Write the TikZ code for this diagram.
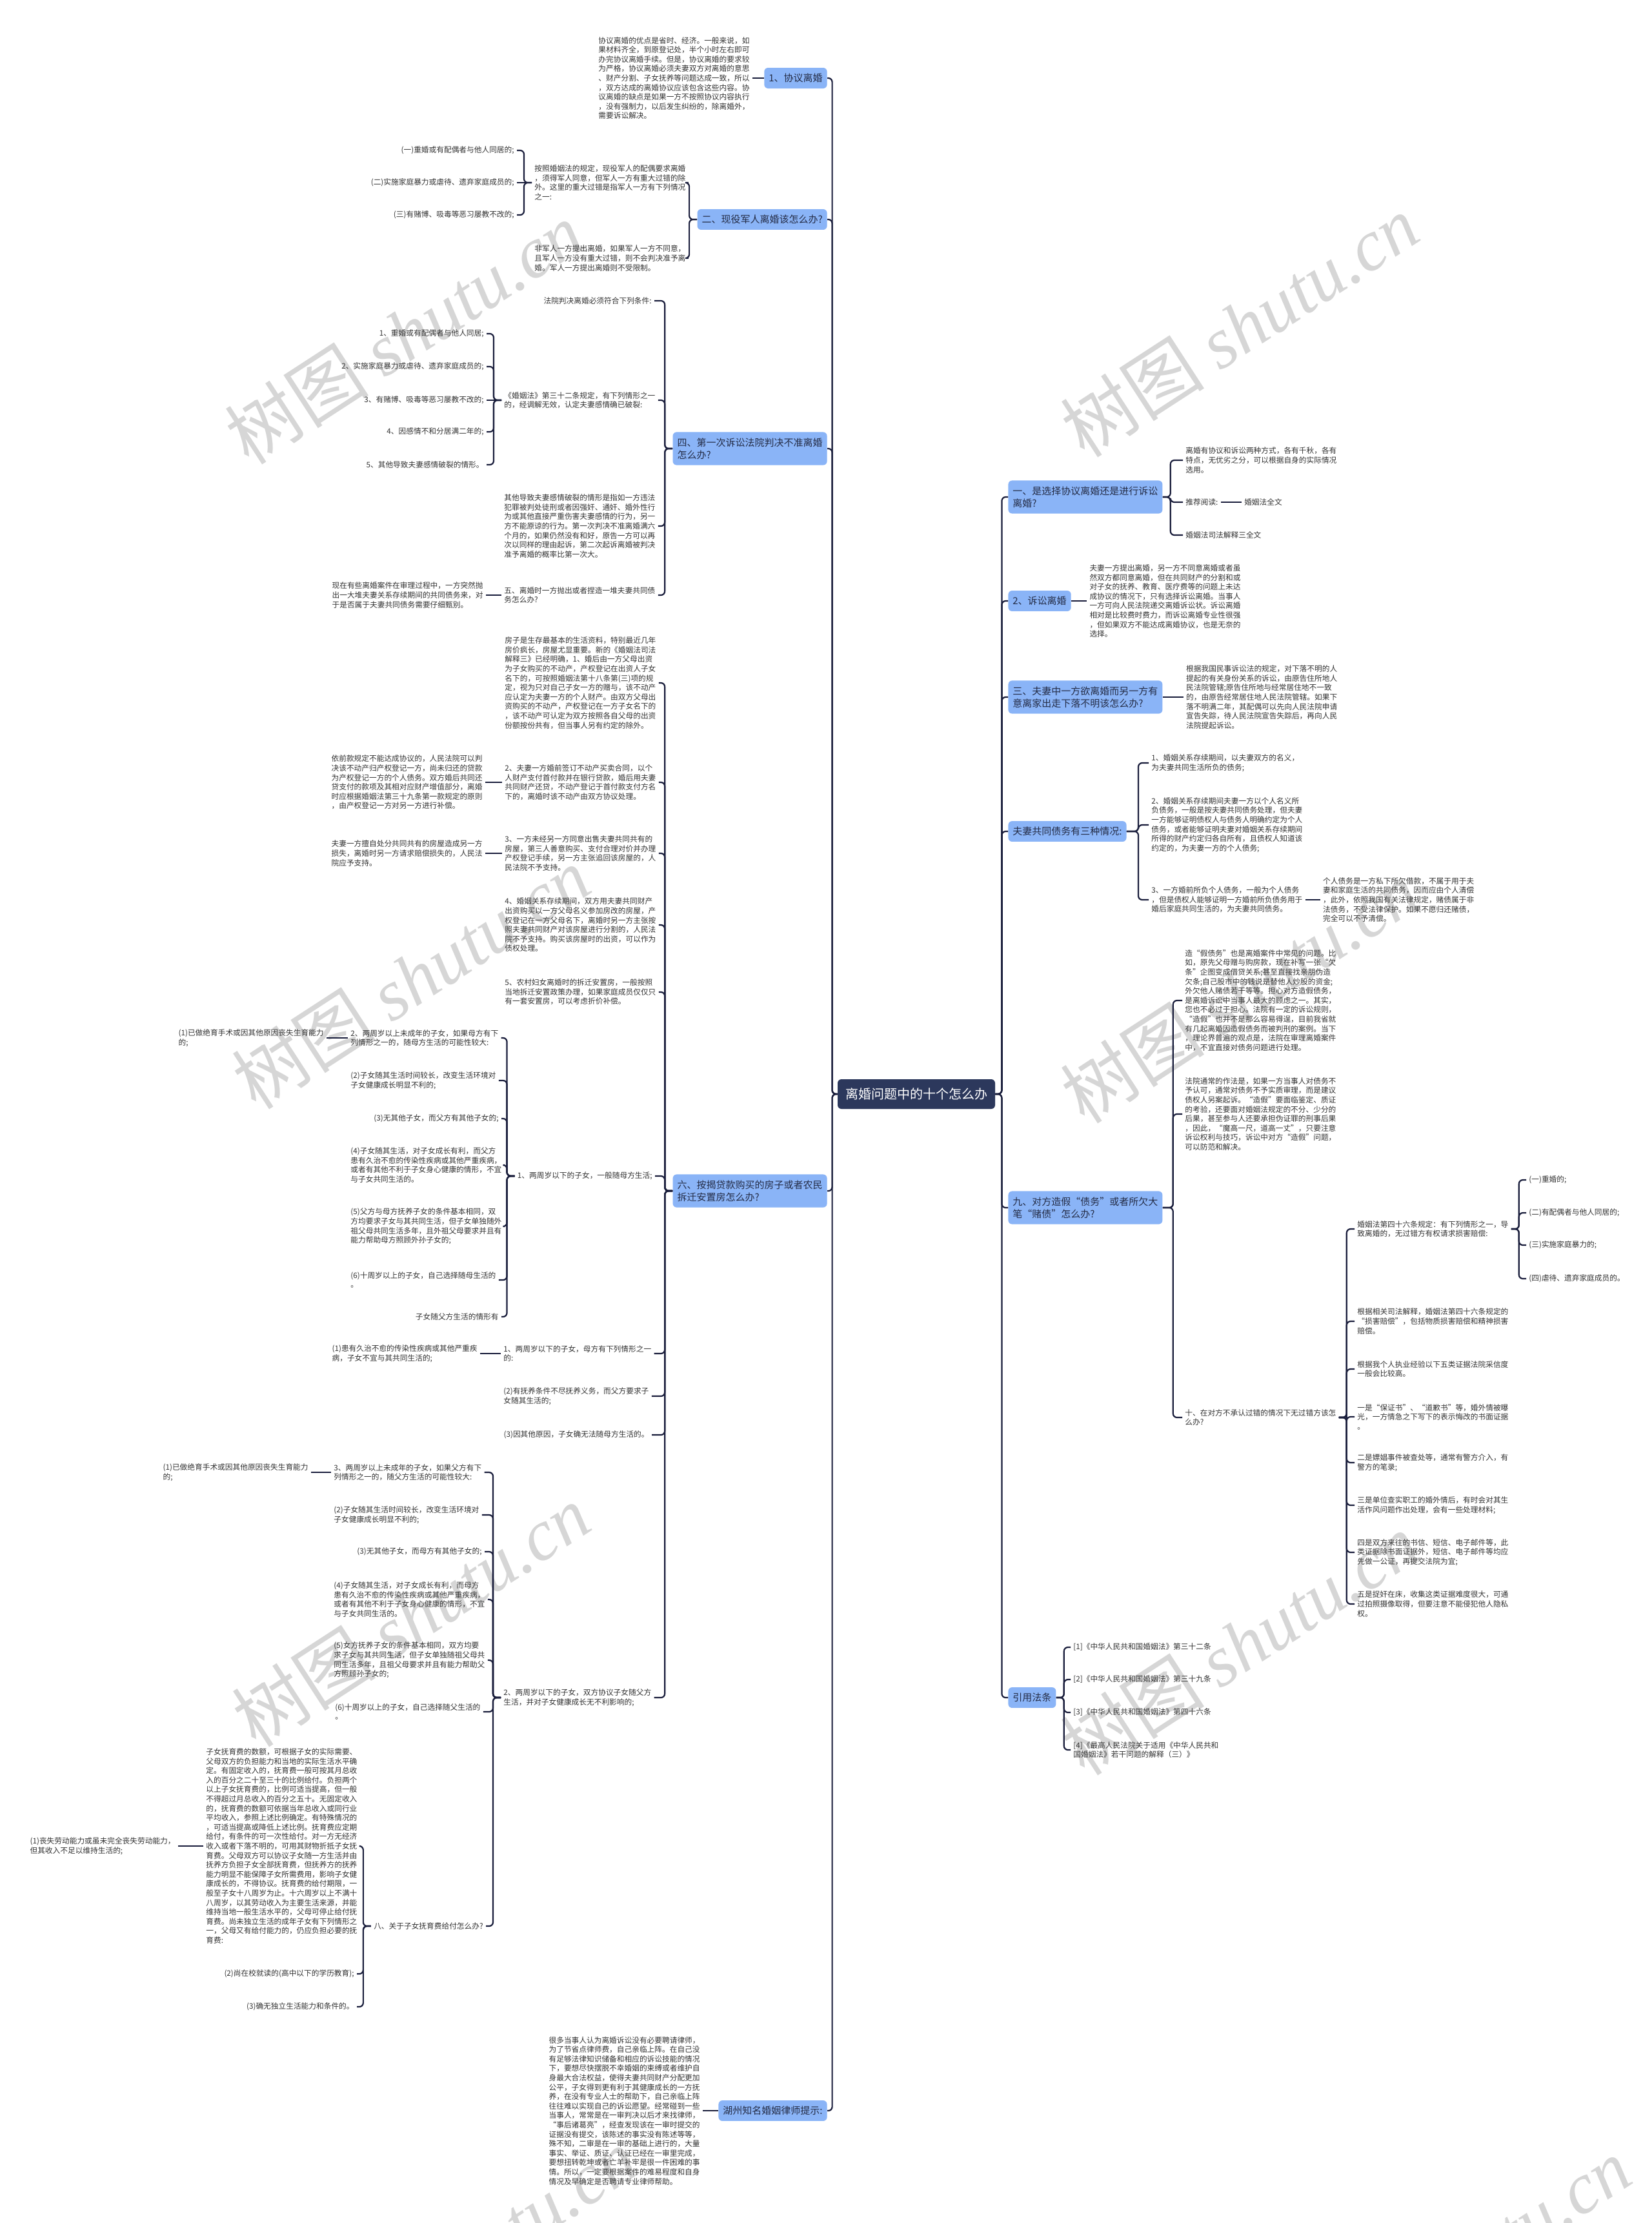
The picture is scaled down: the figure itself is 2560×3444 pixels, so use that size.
\documentclass[tikz,border=0pt]{standalone}
\usepackage{fontspec}
\setmainfont{Noto Sans CJK SC}
\newfontfamily\wmserif{Liberation Serif}
\definecolor{txt}{RGB}{51,51,51}
\definecolor{linec}{RGB}{26,30,60}
\definecolor{boxc}{RGB}{138,180,247}
\definecolor{boxtxt}{RGB}{36,44,70}
\definecolor{ctrc}{RGB}{44,56,92}
\definecolor{wmc}{RGB}{214,214,214}
\newcommand\fs{\fontsize{5.85pt}{7.3pt}\selectfont}
\newcommand\fb{\fontsize{7.5pt}{9.6pt}\selectfont}
\newcommand\fc{\fontsize{10pt}{12pt}\selectfont}
\newcommand\ConL[3][12]{\draw[conn] (#2.west) -- ++(-#1,0) |- (#3.east);}
\newcommand\ConR[3][12]{\draw[conn] (#2.east) -- ++(#1,0) |- (#3.west);}
\newcommand\StL[2]{\draw[conn] (#1.west) -- (#2.east);}
\newcommand\StR[2]{\draw[conn] (#1.east) -- (#2.west);}
\tikzset{
 conn/.style={draw=linec,line width=1.1pt,rounded corners=3pt},
 tx/.style={font=\fs,text=txt,inner xsep=2pt,inner ysep=1pt,align=left},
 bx/.style={font=\fb,text=boxtxt,fill=boxc,rounded corners=3pt,inner xsep=3.5pt,inner ysep=4.5pt,align=left},
 ctr/.style={font=\fc,text=white,fill=ctrc,rounded corners=3pt,minimum width=122pt,minimum height=23pt,inner sep=0pt},
 wm/.style={text=wmc,rotate=33,font=\fontsize{56pt}{60pt}\selectfont,inner sep=0pt}
}
\begin{document}
\begin{tikzpicture}[x=0.5pt,y=-0.5pt]
\fill[white] (0,0) rectangle (2560,3444);
\useasboundingbox (0,0) rectangle (2560,3444);
% watermarks
\foreach \p in {(626,516),(1921,505),(637,1515),(1921,1537),(637,2503),(1921,2547),(710,3500),(2250,3515)}
  \node[wm] at \p {树图 {\wmserif\itshape shutu.cn}};

% center
\node[ctr] (c) at (1420,1695) {离婚问题中的十个怎么办};

% main boxes
\node[bx,anchor=east] (l1) at (1282,121) {1、协议离婚};
\node[bx,anchor=east] (l2) at (1282,340) {二、现役军人离婚该怎么办?};
\node[bx,anchor=east] (l3) at (1282,695) {四、第一次诉讼法院判决不准离婚\\怎么办?};
\node[bx,anchor=east] (l4) at (1282,1845) {六、按揭贷款购买的房子或者农民\\拆迁安置房怎么办?};
\node[bx,anchor=east] (l5) at (1282,3270) {湖州知名婚姻律师提示:};
\node[bx,anchor=west] (r1) at (1562,770) {一、是选择协议离婚还是进行诉讼\\离婚?};
\node[bx,anchor=west] (r2) at (1562,931) {2、诉讼离婚};
\node[bx,anchor=west] (r3) at (1562,1080) {三、夫妻中一方欲离婚而另一方有\\意离家出走下落不明该怎么办?};
\node[bx,anchor=west] (r4) at (1562,1288) {夫妻共同债务有三种情况:};
\node[bx,anchor=west] (r5) at (1562,1871) {九、对方造假“债务”或者所欠大\\笔“赌债”怎么办?};
\node[bx,anchor=west] (r6) at (1562,2630) {引用法条};

\foreach \n in {l1,l2,l3,l4,l5} {\ConL[8]{c}{\n}}
\foreach \n in {r1,r2,r3,r4,r5,r6} {\ConR[10]{c}{\n}}

% L1
\node[tx,anchor=east] (l1a) at ([xshift=-9pt]l1.west) {协议离婚的优点是省时、经济。一般来说，如\\果材料齐全，到原登记处，半个小时左右即可\\办完协议离婚手续。但是，协议离婚的要求较\\为严格，协议离婚必须夫妻双方对离婚的意思\\、财产分割、子女抚养等问题达成一致，所以\\，双方达成的离婚协议应该包含这些内容。协\\议离婚的缺点是如果一方不按照协议内容执行\\，没有强制力，以后发生纠纷的，除离婚外，\\需要诉讼解决。};
\StL{l1}{l1a}

% L2
\node[tx,anchor=west] (l2a) at (824,283) {按照婚姻法的规定，现役军人的配偶要求离婚\\，须得军人同意，但军人一方有重大过错的除\\外。这里的重大过错是指军人一方有下列情况\\之一:};
\node[tx,anchor=west] (l2b) at (824,400) {非军人一方提出离婚，如果军人一方不同意，\\且军人一方没有重大过错，则不会判决准予离\\婚。军人一方提出离婚则不受限制。};
\ConL{l2}{l2a} \ConL{l2}{l2b}
\node[tx,anchor=east] (l2a1) at (801,233) {(一)重婚或有配偶者与他人同居的;};
\node[tx,anchor=east] (l2a2) at ([xshift=-11.5pt]l2a.west) {(二)实施家庭暴力或虐待、遗弃家庭成员的;};
\node[tx,anchor=east] (l2a3) at (801,333) {(三)有赌博、吸毒等恶习屡教不改的;};
\ConL{l2a}{l2a1} \StL{l2a}{l2a2} \ConL{l2a}{l2a3}

% L3
\node[tx,anchor=east] (l3a) at (1014,466) {法院判决离婚必须符合下列条件:};
\node[tx,anchor=west] (l3b) at (777,620) {《婚姻法》第三十二条规定，有下列情形之一\\的，经调解无效，认定夫妻感情确已破裂:};
\node[tx,anchor=west] (l3c) at (777,815) {其他导致夫妻感情破裂的情形是指如一方违法\\犯罪被判处徒刑或者因强奸、通奸、婚外性行\\为或其他直接严重伤害夫妻感情的行为，另一\\方不能原谅的行为。第一次判决不准离婚满六\\个月的，如果仍然没有和好，原告一方可以再\\次以同样的理由起诉，第二次起诉离婚被判决\\准予离婚的概率比第一次大。};
\node[tx,anchor=west] (l3d) at (777,922) {五、离婚时一方抛出或者捏造一堆夫妻共同债\\务怎么办?};
\foreach \n in {l3a,l3b,l3c,l3d} {\ConL{l3}{\n}}
\node[tx,anchor=east] (l3b1) at (754,517) {1、重婚或有配偶者与他人同居;};
\node[tx,anchor=east] (l3b2) at (754,568) {2、实施家庭暴力或虐待、遗弃家庭成员的;};
\node[tx,anchor=east] (l3b3) at ([xshift=-11.5pt]l3b.west) {3、有赌博、吸毒等恶习屡教不改的;};
\node[tx,anchor=east] (l3b4) at (754,669) {4、因感情不和分居满二年的;};
\node[tx,anchor=east] (l3b5) at (754,720) {5、其他导致夫妻感情破裂的情形。};
\ConL{l3b}{l3b1} \ConL{l3b}{l3b2} \StL{l3b}{l3b3} \ConL{l3b}{l3b4} \ConL{l3b}{l3b5}
\node[tx,anchor=east] (l3d1) at ([xshift=-12pt]l3d.west) {现在有些离婚案件在审理过程中，一方突然抛\\出一大堆夫妻关系存续期间的共同债务来，对\\于是否属于夫妻共同债务需要仔细甄别。};
\StL{l3d}{l3d1}

% L4
\node[tx,anchor=west] (l4a) at (778,1058) {房子是生存最基本的生活资料，特别最近几年\\房价疯长，房屋尤显重要。新的《婚姻法司法\\解释三》已经明确，1、婚后由一方父母出资\\为子女购买的不动产，产权登记在出资人子女\\名下的，可按照婚姻法第十八条第(三)项的规\\定，视为只对自己子女一方的赠与，该不动产\\应认定为夫妻一方的个人财产。由双方父母出\\资购买的不动产，产权登记在一方子女名下的\\，该不动产可认定为双方按照各自父母的出资\\份额按份共有，但当事人另有约定的除外。};
\node[tx,anchor=west] (l4b) at (778,1212) {2、夫妻一方婚前签订不动产买卖合同，以个\\人财产支付首付款并在银行贷款，婚后用夫妻\\共同财产还贷，不动产登记于首付款支付方名\\下的，离婚时该不动产由双方协议处理。};
\node[tx,anchor=west] (l4c) at (778,1322) {3、一方未经另一方同意出售夫妻共同共有的\\房屋，第三人善意购买、支付合理对价并办理\\产权登记手续，另一方主张追回该房屋的，人\\民法院不予支持。};
\node[tx,anchor=west] (l4d) at (778,1433) {4、婚姻关系存续期间，双方用夫妻共同财产\\出资购买以一方父母名义参加房改的房屋，产\\权登记在一方父母名下，离婚时另一方主张按\\照夫妻共同财产对该房屋进行分割的，人民法\\院不予支持。购买该房屋时的出资，可以作为\\债权处理。};
\node[tx,anchor=west] (l4e) at (778,1537) {5、农村妇女离婚时的拆迁安置房，一般按照\\当地拆迁安置政策办理，如果家庭成员仅仅只\\有一套安置房，可以考虑折价补偿。};
\node[tx,anchor=east] (l4f) at (1015,1822) {1、两周岁以下的子女，一般随母方生活;};
\node[tx,anchor=west] (l4g) at (776,2097) {1、两周岁以下的子女，母方有下列情形之一\\的:};
\node[tx,anchor=west] (l4h) at (776,2163) {(2)有抚养条件不尽抚养义务，而父方要求子\\女随其生活的;};
\node[tx,anchor=east] (l4i) at (1010,2223) {(3)因其他原因，子女确无法随母方生活的。};
\node[tx,anchor=west] (l4j) at (776,2630) {2、两周岁以下的子女，双方协议子女随父方\\生活，并对子女健康成长无不利影响的;};
\foreach \n in {l4a,l4b,l4c,l4d,l4e,l4f,l4g,l4h,l4i,l4j} {\ConL{l4}{\n}}
\node[tx,anchor=east] (l4b1) at ([xshift=-13pt]l4b.west) {依前款规定不能达成协议的，人民法院可以判\\决该不动产归产权登记一方，尚未归还的贷款\\为产权登记一方的个人债务。双方婚后共同还\\贷支付的款项及其相对应财产增值部分，离婚\\时应根据婚姻法第三十九条第一款规定的原则\\，由产权登记一方对另一方进行补偿。};
\StL{l4b}{l4b1}
\node[tx,anchor=east] (l4c1) at ([xshift=-13pt]l4c.west) {夫妻一方擅自处分共同共有的房屋造成另一方\\损失，离婚时另一方请求赔偿损失的，人民法\\院应予支持。};
\StL{l4c}{l4c1}
% L4f children
\node[tx,anchor=west] (l4f1) at (539,1608) {2、两周岁以上未成年的子女，如果母方有下\\列情形之一的，随母方生活的可能性较大:};
\node[tx,anchor=west] (l4f2) at (539,1674) {(2)子女随其生活时间较长，改变生活环境对\\子女健康成长明显不利的;};
\node[tx,anchor=east] (l4f3) at (777,1733) {(3)无其他子女，而父方有其他子女的;};
\node[tx,anchor=west] (l4f4) at (539,1805) {(4)子女随其生活，对子女成长有利，而父方\\患有久治不愈的传染性疾病或其他严重疾病，\\或者有其他不利于子女身心健康的情形，不宜\\与子女共同生活的。};
\node[tx,anchor=west] (l4f5) at (539,1900) {(5)父方与母方抚养子女的条件基本相同，双\\方均要求子女与其共同生活，但子女单独随外\\祖父母共同生活多年，且外祖父母要求并且有\\能力帮助母方照顾外孙子女的;};
\node[tx,anchor=west] (l4f6) at (539,1983) {(6)十周岁以上的子女，自己选择随母生活的\\。};
\node[tx,anchor=east] (l4f7) at (777,2040) {子女随父方生活的情形有};
\foreach \n in {l4f1,l4f2,l4f3,l4f4,l4f5,l4f6,l4f7} {\ConL{l4f}{\n}}
\node[tx,anchor=east] (l4f1a) at ([xshift=-16.5pt]l4f1.west) {(1)已做绝育手术或因其他原因丧失生育能力\\的;};
\StL{l4f1}{l4f1a}
\node[tx,anchor=east] (l4g1) at ([xshift=-16pt]l4g.west) {(1)患有久治不愈的传染性疾病或其他严重疾\\病，子女不宜与其共同生活的;};
\StL{l4g}{l4g1}
% L4j children
\node[tx,anchor=west] (l4j1) at (513,2281) {3、两周岁以上未成年的子女，如果父方有下\\列情形之一的，随父方生活的可能性较大:};
\node[tx,anchor=west] (l4j2) at (513,2347) {(2)子女随其生活时间较长，改变生活环境对\\子女健康成长明显不利的;};
\node[tx,anchor=east] (l4j3) at (751,2404) {(3)无其他子女，而母方有其他子女的;};
\node[tx,anchor=west] (l4j4) at (513,2478) {(4)子女随其生活，对子女成长有利，而母方\\患有久治不愈的传染性疾病或其他严重疾病，\\或者有其他不利于子女身心健康的情形，不宜\\与子女共同生活的。};
\node[tx,anchor=west] (l4j5) at (513,2572) {(5)女方抚养子女的条件基本相同，双方均要\\求子女与其共同生活，但子女单独随祖父母共\\同生活多年，且祖父母要求并且有能力帮助父\\方照顾孙子女的;};
\node[tx,anchor=west] (l4j6) at (515,2652) {(6)十周岁以上的子女，自己选择随父生活的\\。};
\node[tx,anchor=east] (l4j7) at (753,2984) {八、关于子女抚育费给付怎么办?};
\foreach \n in {l4j1,l4j2,l4j3,l4j4,l4j5,l4j6,l4j7} {\ConL{l4j}{\n}}
\node[tx,anchor=east] (l4j1a) at ([xshift=-15.5pt]l4j1.west) {(1)已做绝育手术或因其他原因丧失生育能力\\的;};
\StL{l4j1}{l4j1a}
\node[tx,anchor=west] (l4j7a) at (315,2860) {子女抚育费的数额，可根据子女的实际需要、\\父母双方的负担能力和当地的实际生活水平确\\定。有固定收入的，抚育费一般可按其月总收\\入的百分之二十至三十的比例给付。负担两个\\以上子女抚育费的，比例可适当提高，但一般\\不得超过月总收入的百分之五十。无固定收入\\的，抚育费的数额可依据当年总收入或同行业\\平均收入，参照上述比例确定。有特殊情况的\\，可适当提高或降低上述比例。抚育费应定期\\给付，有条件的可一次性给付。对一方无经济\\收入或者下落不明的，可用其财物折抵子女抚\\育费。父母双方可以协议子女随一方生活并由\\抚养方负担子女全部抚育费，但抚养方的抚养\\能力明显不能保障子女所需费用，影响子女健\\康成长的，不得协议。抚育费的给付期限，一\\般至子女十八周岁为止。十六周岁以上不满十\\八周岁，以其劳动收入为主要生活来源，并能\\维持当地一般生活水平的，父母可停止给付抚\\育费。尚未独立生活的成年子女有下列情形之\\一，父母又有给付能力的，仍应负担必要的抚\\育费:};
\node[tx,anchor=east] (l4j7b) at (553,3058) {(2)尚在校就读的(高中以下的学历教育);};
\node[tx,anchor=east] (l4j7c) at (553,3109) {(3)确无独立生活能力和条件的。};
\foreach \n in {l4j7a,l4j7b,l4j7c} {\ConL{l4j7}{\n}}
\node[tx,anchor=east] (l4j7a1) at ([xshift=-19.5pt]l4j7a.west) {(1)丧失劳动能力或虽未完全丧失劳动能力，\\但其收入不足以维持生活的;};
\StL{l4j7a}{l4j7a1}

% L5
\node[tx,anchor=east] (l5a) at ([xshift=-12pt]l5.west) {很多当事人认为离婚诉讼没有必要聘请律师，\\为了节省点律师费，自己亲临上阵。在自己没\\有足够法律知识储备和相应的诉讼技能的情况\\下，要想尽快摆脱不幸婚姻的束缚或者维护自\\身最大合法权益，使得夫妻共同财产分配更加\\公平，子女得到更有利于其健康成长的一方抚\\养，在没有专业人士的帮助下，自己亲临上阵\\往往难以实现自己的诉讼愿望。经常碰到一些\\当事人，常常是在一审判决以后才来找律师，\\“事后诸葛亮”，经查发现该在一审时提交的\\证据没有提交，该陈述的事实没有陈述等等，\\殊不知，二审是在一审的基础上进行的，大量\\事实、举证、质证、认证已经在一审里完成，\\要想扭转乾坤或者亡羊补牢是很一件困难的事\\情。所以，一定要根据案件的难易程度和自身\\情况及早确定是否聘请专业律师帮助。};
\StL{l5}{l5a}

% R1
\node[tx,anchor=west] (r1a) at (1833,713) {离婚有协议和诉讼两种方式，各有千秋，各有\\特点，无优劣之分，可以根据自身的实际情况\\选用。};
\node[tx,anchor=west] (r1b) at (1833,778) {推荐阅读:};
\node[tx,anchor=west] (r1c) at (1833,829) {婚姻法司法解释三全文};
\foreach \n in {r1a,r1b,r1c} {\ConR{r1}{\n}}
\node[tx,anchor=west] (r1b1) at ([xshift=16pt]r1b.east) {婚姻法全文};
\StR{r1b}{r1b1}

% R2
\node[tx,anchor=west] (r2a) at ([xshift=12pt]r2.east) {夫妻一方提出离婚，另一方不同意离婚或者虽\\然双方都同意离婚，但在共同财产的分割和或\\对子女的抚养、教育、医疗费等的问题上未达\\成协议的情况下，只有选择诉讼离婚。当事人\\一方可向人民法院递交离婚诉讼状。诉讼离婚\\相对是比较费时费力，而诉讼离婚专业性很强\\，但如果双方不能达成离婚协议，也是无奈的\\选择。};
\StR{r2}{r2a}

% R3
\node[tx,anchor=west] (r3a) at ([xshift=16pt]r3.east) {根据我国民事诉讼法的规定，对下落不明的人\\提起的有关身份关系的诉讼，由原告住所地人\\民法院管辖;原告住所地与经常居住地不一致\\的，由原告经常居住地人民法院管辖。如果下\\落不明满二年，其配偶可以先向人民法院申请\\宣告失踪，待人民法院宣告失踪后，再向人民\\法院提起诉讼。};
\StR{r3}{r3a}

% R4
\node[tx,anchor=west] (r4a) at (1780,1182) {1、婚姻关系存续期间，以夫妻双方的名义，\\为夫妻共同生活所负的债务;};
\node[tx,anchor=west] (r4b) at (1780,1278) {2、婚姻关系存续期间夫妻一方以个人名义所\\负债务，一般是按夫妻共同债务处理，但夫妻\\一方能够证明债权人与债务人明确约定为个人\\债务，或者能够证明夫妻对婚姻关系存续期间\\所得的财产约定归各自所有，且债权人知道该\\约定的，为夫妻一方的个人债务;};
\node[tx,anchor=west] (r4c) at (1780,1394) {3、一方婚前所负个人债务，一般为个人债务\\，但是债权人能够证明一方婚前所负债务用于\\婚后家庭共同生活的，为夫妻共同债务。};
\foreach \n in {r4a,r4b,r4c} {\ConR[18]{r4}{\n}}
\node[tx,anchor=west] (r4c1) at ([xshift=11.5pt]r4c.east) {个人债务是一方私下所欠借款，不属于用于夫\\妻和家庭生活的共同债务，因而应由个人清偿\\，此外，依照我国有关法律规定，赌债属于非\\法债务，不受法律保护。如果不愿归还赌债，\\完全可以不予清偿。};
\StR{r4c}{r4c1}

% R5
\node[tx,anchor=west] (r5a) at (1832,1550) {造“假债务”也是离婚案件中常见的问题。比\\如，原先父母赠与购房款，现在补写一张“欠\\条”企图变成借贷关系;甚至直接找亲朋伪造\\欠条;自己股市中的钱说是替他人炒股的资金;\\外欠他人赌债若干等等。担心对方造假债务，\\是离婚诉讼中当事人最大的顾虑之一。其实，\\您也不必过于担心。法院有一定的诉讼规则，\\“造假”也并不是那么容易得逞，目前我省就\\有几起离婚因造假债务而被判刑的案例。当下\\，理论界普遍的观点是，法院在审理离婚案件\\中，不宜直接对债务问题进行处理。};
\node[tx,anchor=west] (r5b) at (1832,1726) {法院通常的作法是，如果一方当事人对债务不\\予认可，通常对债务不予实质审理，而是建议\\债权人另案起诉。“造假”要面临鉴定、质证\\的考验，还要面对婚姻法规定的不分、少分的\\后果，甚至参与人还要承担伪证罪的刑事后果\\，因此，“魔高一尺，道高一丈”，只要注意\\诉讼权利与技巧，诉讼中对方“造假”问题，\\可以防范和解决。};
\node[tx,anchor=west] (r5c) at (1832,2196) {十、在对方不承认过错的情况下无过错方该怎\\么办?};
\foreach \n in {r5a,r5b,r5c} {\ConR[16]{r5}{\n}}
\node[tx,anchor=west] (r5c1) at (2099,1904) {婚姻法第四十六条规定：有下列情形之一，导\\致离婚的，无过错方有权请求损害赔偿:};
\node[tx,anchor=west] (r5c2) at (2099,2047) {根据相关司法解释，婚姻法第四十六条规定的\\“损害赔偿”，包括物质损害赔偿和精神损害\\赔偿。};
\node[tx,anchor=west] (r5c3) at (2099,2121) {根据我个人执业经验以下五类证据法院采信度\\一般会比较高。};
\node[tx,anchor=west] (r5c4) at (2099,2195) {一是“保证书”、“道歉书”等，婚外情被曝\\光，一方情急之下写下的表示悔改的书面证据\\。};
\node[tx,anchor=west] (r5c5) at (2099,2266) {二是嫖娼事件被查处等，通常有警方介入，有\\警方的笔录;};
\node[tx,anchor=west] (r5c6) at (2099,2332) {三是单位查实职工的婚外情后，有时会对其生\\活作风问题作出处理，会有一些处理材料;};
\node[tx,anchor=west] (r5c7) at (2099,2405) {四是双方来往的书信、短信、电子邮件等，此\\类证据除书面证据外，短信、电子邮件等均应\\先做一公证，再提交法院为宜;};
\node[tx,anchor=west] (r5c8) at (2099,2485) {五是捉奸在床，收集这类证据难度很大，可通\\过拍照摄像取得，但要注意不能侵犯他人隐私\\权。};
\foreach \n in {r5c1,r5c2,r5c3,r5c4,r5c5,r5c6,r5c7,r5c8} {\ConR{r5c}{\n}}
\node[tx,anchor=west] (r5c1a) at (2365,1828) {(一)重婚的;};
\node[tx,anchor=west] (r5c1b) at (2365,1879) {(二)有配偶者与他人同居的;};
\node[tx,anchor=west] (r5c1c) at (2365,1929) {(三)实施家庭暴力的;};
\node[tx,anchor=west] (r5c1d) at (2365,1981) {(四)虐待、遗弃家庭成员的。};
\foreach \n in {r5c1a,r5c1b,r5c1c,r5c1d} {\ConR{r5c1}{\n}}

% R6
\node[tx,anchor=west] (r6a) at (1659,2552) {[1]《中华人民共和国婚姻法》第三十二条};
\node[tx,anchor=west] (r6b) at (1659,2602) {[2]《中华人民共和国婚姻法》第三十九条};
\node[tx,anchor=west] (r6c) at (1659,2653) {[3]《中华人民共和国婚姻法》第四十六条};
\node[tx,anchor=west] (r6d) at (1659,2711) {[4]《最高人民法院关于适用《中华人民共和\\国婚姻法》若干问题的解释（三）》};
\foreach \n in {r6a,r6b,r6c,r6d} {\ConR{r6}{\n}}
\end{tikzpicture}
\end{document}
